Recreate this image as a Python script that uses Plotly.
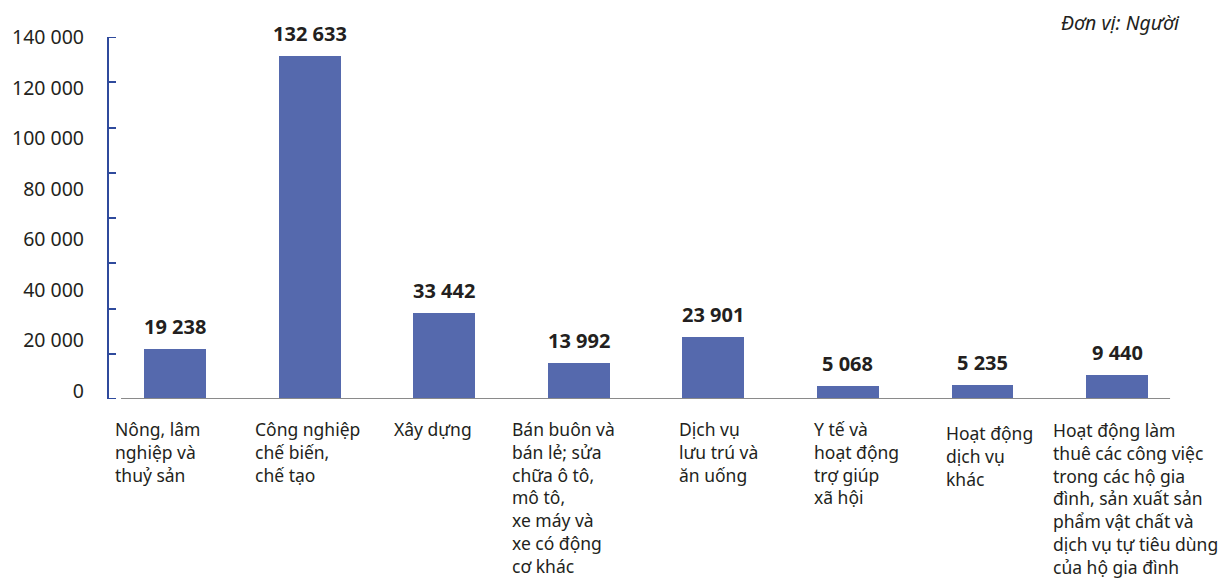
import plotly.graph_objects as go

# Employment by economic sector (persons)
categories = [
    "Nông, lâm<br>nghiệp và<br>thuỷ sản",
    "Công nghiệp<br>chế biến,<br>chế tạo",
    "Xây dựng",
    "Bán buôn và<br>bán lẻ; sửa<br>chữa ô tô,<br>mô tô,<br>xe máy và<br>xe có động<br>cơ khác",
    "Dịch vụ<br>lưu trú và<br>ăn uống",
    "Y tế và<br>hoạt động<br>trợ giúp<br>xã hội",
    "Hoạt động<br>dịch vụ<br>khác",
    "Hoạt động làm<br>thuê các công việc<br>trong các hộ gia<br>đình, sản xuất sản<br>phẩm vật chất và<br>dịch vụ tự tiêu dùng<br>của hộ gia đình",
]
values = [19238, 132633, 33442, 13992, 23901, 5068, 5235, 9440]
value_labels = ["19 238", "132 633", "33 442", "13 992", "23 901", "5 068", "5 235", "9 440"]
tick_values = [0, 20000, 40000, 60000, 80000, 100000, 120000, 140000]
tick_labels = ["0", "20 000", "40 000", "60 000", "80 000", "100 000", "120 000", "140 000"]
unit_note = "Đơn vị: Người"

# layout helpers for the left-aligned category captions (pixel offsets)
caption_dx = [-62, -57, -52, -69, -36, -36, -38, -66]
caption_dy = [0, 0, 0, 0, 0, 0, 4, 1]

FONT = "Noto Sans"
TEXT = "#231F20"
BAR = "#5569AD"
AXIS_BLUE = "#2F4A9C"
Y_MAX = 140000
MARK_STEP = 17500

x_idx = list(range(len(values)))

fig = go.Figure()
fig.add_trace(go.Bar(
    x=x_idx, y=values, width=0.46,
    marker=dict(color=BAR, line=dict(width=0)),
    hoverinfo="skip", showlegend=False,
))
# empty trace so the label axis (yaxis2) is rendered
fig.add_trace(go.Scatter(x=[None], y=[None], yaxis="y2", mode="markers",
                         showlegend=False, hoverinfo="skip"))

annotations = []
for i, (v, lab) in enumerate(zip(values, value_labels)):
    annotations.append(dict(
        x=i, y=v, xref="x", yref="y", text=f"<b>{lab}</b>",
        showarrow=False, xanchor="center", yanchor="bottom", yshift=7,
        font=dict(family=FONT, size=20, color=TEXT),
    ))

for i, cat in enumerate(categories):
    annotations.append(dict(
        x=i, y=0, xref="x", yref="paper", text=cat,
        showarrow=False, xanchor="left", yanchor="top", align="left",
        xshift=caption_dx[i], yshift=-(16 + caption_dy[i]),
        font=dict(family=FONT, size=17.5, color=TEXT),
    ))

annotations.append(dict(
    x=0.9972, y=1.0387, xref="paper", yref="paper", text=f"<i>{unit_note}</i>",
    showarrow=False, xanchor="right", yanchor="middle",
    font=dict(family=FONT, size=19.5, color=TEXT),
))

# horizontal baseline
fig.add_shape(type="line", xref="x", yref="y", x0=-0.401, x1=7.394, y0=0, y1=0,
              line=dict(color="#8A8A8A", width=2))
# tick marks at both ends of the value axis
for yv in (0, Y_MAX):
    fig.add_shape(type="line", xref="x domain", yref="y", x0=0, x1=7 / 1076,
                  y0=yv, y1=yv, line=dict(color=AXIS_BLUE, width=2))

fig.update_layout(
    width=1221, height=586,
    margin=dict(l=109, r=36, t=37, b=187),
    paper_bgcolor="white", plot_bgcolor="white",
    font=dict(family=FONT, color=TEXT),
    bargap=0,
    xaxis=dict(range=[-0.4905, 7.505], showticklabels=False, ticks="",
               showgrid=False, zeroline=False, showline=False, fixedrange=True),
    yaxis=dict(range=[0, Y_MAX], tickvals=[MARK_STEP * k for k in range(9)],
               showticklabels=False, ticks="inside", ticklen=7, tickwidth=2,
               tickcolor=AXIS_BLUE, showline=True, linecolor=AXIS_BLUE, linewidth=2,
               showgrid=False, zeroline=False, fixedrange=True),
    yaxis2=dict(overlaying="y", side="left", range=[-3200, 140100],
                tickvals=tick_values, ticktext=tick_labels, ticks="",
                ticklabelstandoff=24, showline=False, showgrid=False, zeroline=False,
                tickfont=dict(family=FONT, size=19.5, color=TEXT), fixedrange=True),
    annotations=annotations,
)

fig.write_html("out.html")
